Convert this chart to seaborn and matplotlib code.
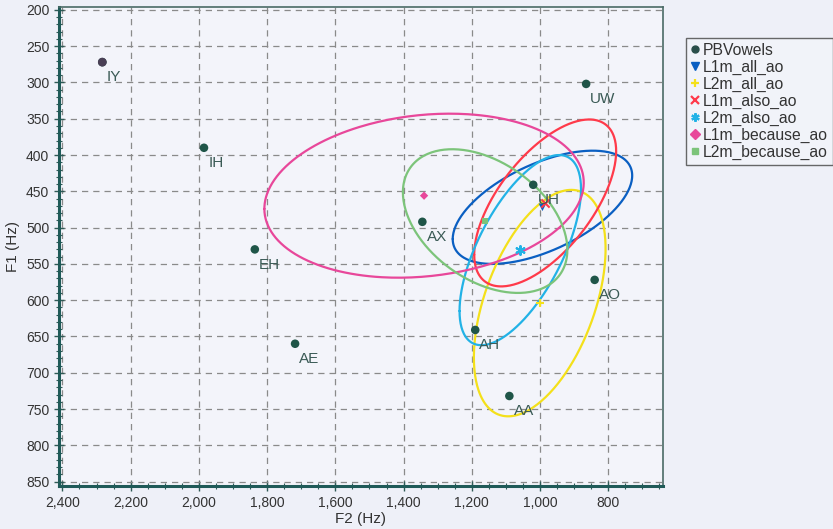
import numpy as np
import pandas as pd
import matplotlib
matplotlib.use("Agg")
import matplotlib.pyplot as plt
import seaborn as sns
from matplotlib.ticker import MultipleLocator, FuncFormatter
from matplotlib.lines import Line2D

# ---- data ----
vowels = ["IY", "IH", "EH", "AE", "AX", "UH", "AH", "AA", "AO", "UW"]
vowel_f2 = [2283, 1985, 1836, 1718, 1345, 1020, 1190, 1090, 840, 865]
vowel_f1 = [272, 390, 530, 660, 492, 441, 641, 732, 572, 302]

groups = ["L1m_all_ao", "L2m_all_ao", "L1m_also_ao", "L2m_also_ao",
          "L1m_because_ao", "L2m_because_ao"]
mean_f2 = [993, 1001, 985, 1058, 1340, 1161]
mean_f1 = [472, 604, 466, 531, 456, 491]
# ellipse half-extents (Hz) and correlation
ell_sx = [263, 193, 208, 178, 468, 241]
ell_sy = [78, 156, 115, 131, 113, 99]
ell_r = [0.56, 0.48, 0.62, 0.64, 0.16, -0.40]

colors = ["#0a5fc2", "#f4e01a", "#ff3a4a", "#22b2e6", "#e8479a", "#7cc47a"]
markers = ["v", "+", "x", (6, 2, 0), "D", "s"]
msizes = [30, 40, 35, 40, 18, 22]

sns.set_theme(style="white")
plt.rcParams['font.family'] = ['Liberation Sans', 'DejaVu Sans']

fig = plt.figure(figsize=(8.33, 5.29), dpi=100, facecolor="#eef0f8")
ax = fig.add_axes([0.0708, 0.0813, 0.725, 0.9055])
ax.set_facecolor("#f3f4fa")

# ellipses
t = np.linspace(0, 2 * np.pi, 300)
for i, g in enumerate(groups):
    ex = mean_f2[i] + ell_sx[i] * np.cos(t)
    ey = mean_f1[i] + ell_sy[i] * (ell_r[i] * np.cos(t) + np.sqrt(1 - ell_r[i] ** 2) * np.sin(t))
    sns.lineplot(x=ex, y=ey, sort=False, estimator=None, color=colors[i], lw=1.6, ax=ax, legend=False)

# vowel points
vdf = pd.DataFrame({"F2": vowel_f2, "F1": vowel_f1, "v": vowels})
sns.scatterplot(data=vdf, x="F2", y="F1", color="#1f5548", s=38, ax=ax, zorder=5, edgecolor="none")
ax.scatter([vowel_f2[0]], [vowel_f1[0]], color="#4a3f55", s=40, zorder=6, edgecolor="none")
for f2, f1, v in zip(vowel_f2, vowel_f1, vowels):
    ax.annotate(v, (f2, f1), xytext=(3, -6), textcoords="offset points", ha="left", va="top",
                fontsize=11, color="#3a5a55", zorder=7)

# means
for i, g in enumerate(groups):
    kw = dict(edgecolor="none") if markers[i] in ["v", "D", "s"] else dict(linewidth=1.5)
    sns.scatterplot(x=[mean_f2[i]], y=[mean_f1[i]], marker=markers[i], color=colors[i], s=msizes[i],
                    ax=ax, zorder=6, legend=False, **kw)

ax.set_xlim(2410, 640)
ax.set_ylim(856, 196)
ax.xaxis.set_major_locator(MultipleLocator(200))
ax.xaxis.set_minor_locator(MultipleLocator(50))
ax.yaxis.set_major_locator(MultipleLocator(50))
ax.yaxis.set_minor_locator(MultipleLocator(10))
ax.xaxis.set_major_formatter(FuncFormatter(lambda v, p: f"{int(v):,}"))
ax.grid(True, which="major", linestyle=(0, (5, 4)), color="#8a8a8a", lw=0.9)
ax.tick_params(which="major", direction="inout", length=7, width=1, color="#2f5a55",
               labelsize=10, labelcolor="#333333", bottom=True, left=True)
ax.tick_params(which="minor", direction="inout", length=4, width=0.8, color="#2f5a55", bottom=True, left=True)
for s in ["left", "bottom"]:
    ax.spines[s].set_color("#1f5a58")
    ax.spines[s].set_linewidth(2.2)
for s in ["top", "right"]:
    ax.spines[s].set_color("#4a6a66")
    ax.spines[s].set_linewidth(1.2)
ax.set_xlabel("F2 (Hz)", fontsize=11, color="#333333", labelpad=2)
ax.set_ylabel("F1 (Hz)", fontsize=11, color="#333333", labelpad=4)

handles = [Line2D([], [], marker="o", ls="none", color="#2a4f4a", markersize=5)]
for i, g in enumerate(groups):
    handles.append(Line2D([], [], marker=markers[i], ls="none", color=colors[i],
                          markersize=6 if markers[i] not in ["D", "s"] else 5,
                          markeredgewidth=1.6 if markers[i] not in ["v", "D", "s"] else 1))
labels = ["PBVowels"] + groups
leg = fig.legend(handles, labels, loc="upper left", bbox_to_anchor=(0.823, 0.928), fontsize=11.3,
                 frameon=True, fancybox=False, handletextpad=0.2, borderpad=0.3, labelspacing=0.12,
                 handlelength=0.6, borderaxespad=0)
leg.get_frame().set_edgecolor("#444444")
leg.get_frame().set_facecolor("#f3f4fa")
leg.get_frame().set_linewidth(1.0)
for txt in leg.get_texts():
    txt.set_color("#333333")

fig.savefig("out.png", dpi=100, facecolor=fig.get_facecolor())
